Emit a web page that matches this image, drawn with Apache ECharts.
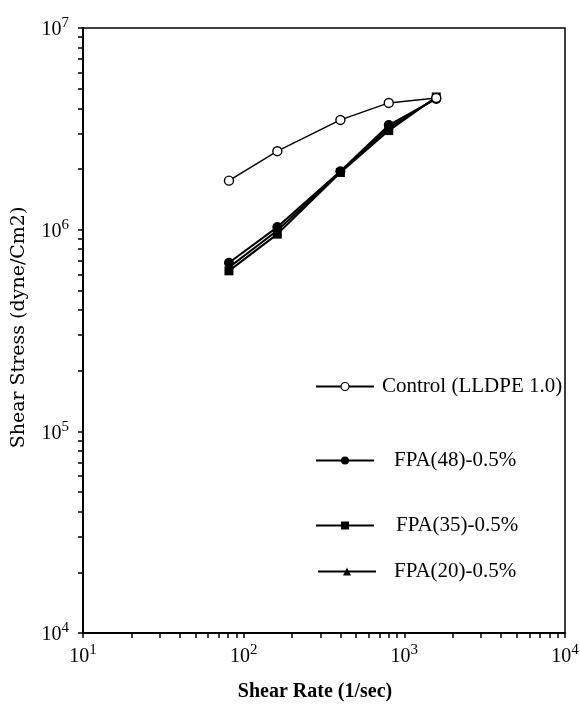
<!DOCTYPE html>
<html>
<head>
<meta charset="utf-8">
<script src="https://cdn.jsdelivr.net/npm/echarts@6/dist/echarts.min.js"></script>
<style>html,body{margin:0;padding:0;background:#fff}#c{width:580px;height:713px}</style>
</head>
<body>
<div id="c"></div>
<script>
// ---- data ----
var shearRate = [81, 162, 400, 800, 1580];
var control   = [1.75e6, 2.45e6, 3.5e6, 4.25e6, 4.5e6];
var fpa48     = [6.85e5, 1.03e6, 1.95e6, 3.3e6, 4.45e6];
var fpa35     = [6.25e5, 9.5e5, 1.92e6, 3.1e6, 4.55e6];
var fpa20     = [6.5e5, 9.9e5, 1.93e6, 3.2e6, 4.5e6];
var seriesNames = ['Control (LLDPE 1.0)', 'FPA(48)-0.5%', 'FPA(35)-0.5%', 'FPA(20)-0.5%'];
var xTickValues = [10, 100, 1000, 10000];
var yTickValues = [1e4, 1e5, 1e6, 1e7];
var xAxisTitle = 'Shear Rate (1/sec)';
var yAxisTitle = 'Shear Stress (dyne/Cm2)';

function minorTicks(lo, hi) {
  var out = [];
  for (var d = lo; d < hi; d *= 10) {
    out.push(d);
    for (var k = 2; k <= 9; k++) out.push(k * d);
  }
  out.push(hi);
  return out;
}
function pairs(xs, ys) { return xs.map(function (x, i) { return [x, ys[i]]; }); }
function expLabel(v) {
  var e = Math.round(Math.log10(v));
  return '{b|10}{s|' + e + '}';
}

var FONT = '"Liberation Serif", "DejaVu Serif", serif';
var WFONT = '"DejaVu Serif", "Liberation Serif", serif';
var labelRich = {
  b: { fontFamily: FONT, fontSize: 20, color: '#000', verticalAlign: 'bottom' },
  s: { fontFamily: FONT, fontSize: 15, color: '#000', verticalAlign: 'top', padding: [0, 0, 9, 0] }
};

var chart = echarts.init(document.getElementById('c'), null, { renderer: 'canvas' });
var dataSets = [control, fpa48, fpa35, fpa20];
var symbols = ['circle', 'circle', 'rect', 'triangle'];
var symbolSizes = [9, 10, 9, 8];
var lineWidths = [1.4, 2, 2, 2];

var series = seriesNames.map(function (n, i) {
  return {
    name: n,
    type: 'line',
    data: pairs(shearRate, dataSets[i]),
    symbol: symbols[i],
    symbolSize: symbolSizes[i],
    showAllSymbol: true,
    lineStyle: { color: '#000', width: lineWidths[i] },
    itemStyle: { color: i === 0 ? '#fff' : '#000', borderColor: '#000', borderWidth: i === 0 ? 1.4 : 0 },
    z: i === 0 ? 3 : 2,
    animation: false
  };
});

var legendTops = [376, 450, 515, 561];
var legendLefts = [315, 315, 315, 317];
var legendGaps = [3, 15, 17, 13];
var legends = seriesNames.map(function (n, i) {
  return {
    data: [{ name: n, itemStyle: { borderWidth: i === 0 ? 1.2 : 0 } }],
    left: legendLefts[i],
    top: legendTops[i],
    orient: 'horizontal',
    padding: 0,
    itemWidth: 58,
    itemHeight: 10,
    itemGap: 0,
    selectedMode: false,
    textStyle: { fontFamily: FONT, fontSize: 21, color: '#000', padding: [0, 0, 0, legendGaps[i]] }
  };
});

chart.setOption({
  animation: false,
  backgroundColor: '#fff',
  grid: { left: 83, right: 15, top: 28, bottom: 80, show: true, borderColor: '#000', borderWidth: 1.5, outerBoundsMode: 'none', containLabel: false },
  legend: legends,
  xAxis: {
    type: 'log', logBase: 10, min: 10, max: 10000,
    name: xAxisTitle, nameLocation: 'middle', nameGap: 49,
    nameTextStyle: { fontFamily: FONT, fontSize: 20, fontWeight: 'bold', color: '#000', padding: [0, 18, 0, 0] },
    axisLine: { lineStyle: { color: '#000', width: 2 } },
    axisTick: { show: true, inside: false, length: 5, lineStyle: { color: '#000', width: 1.5 }, customValues: minorTicks(10, 10000) },
    axisLabel: { customValues: xTickValues, formatter: expLabel, rich: labelRich, margin: 10, color: '#000' },
    splitLine: { show: false }
  },
  yAxis: {
    type: 'log', logBase: 10, min: 1e4, max: 1e7,
    name: yAxisTitle, nameLocation: 'middle', nameGap: 54, nameRotate: 90,
    nameTextStyle: { fontFamily: WFONT, fontSize: 19, color: '#000', padding: [0, 0, 0, 6] },
    axisLine: { lineStyle: { color: '#000', width: 2 } },
    axisTick: { show: true, inside: false, length: 5, lineStyle: { color: '#000', width: 1.5 }, customValues: minorTicks(1e4, 1e7) },
    axisLabel: { customValues: yTickValues, formatter: expLabel, rich: labelRich, margin: 14, color: '#000' },
    splitLine: { show: false }
  },
  series: series
});
</script>
</body>
</html>
